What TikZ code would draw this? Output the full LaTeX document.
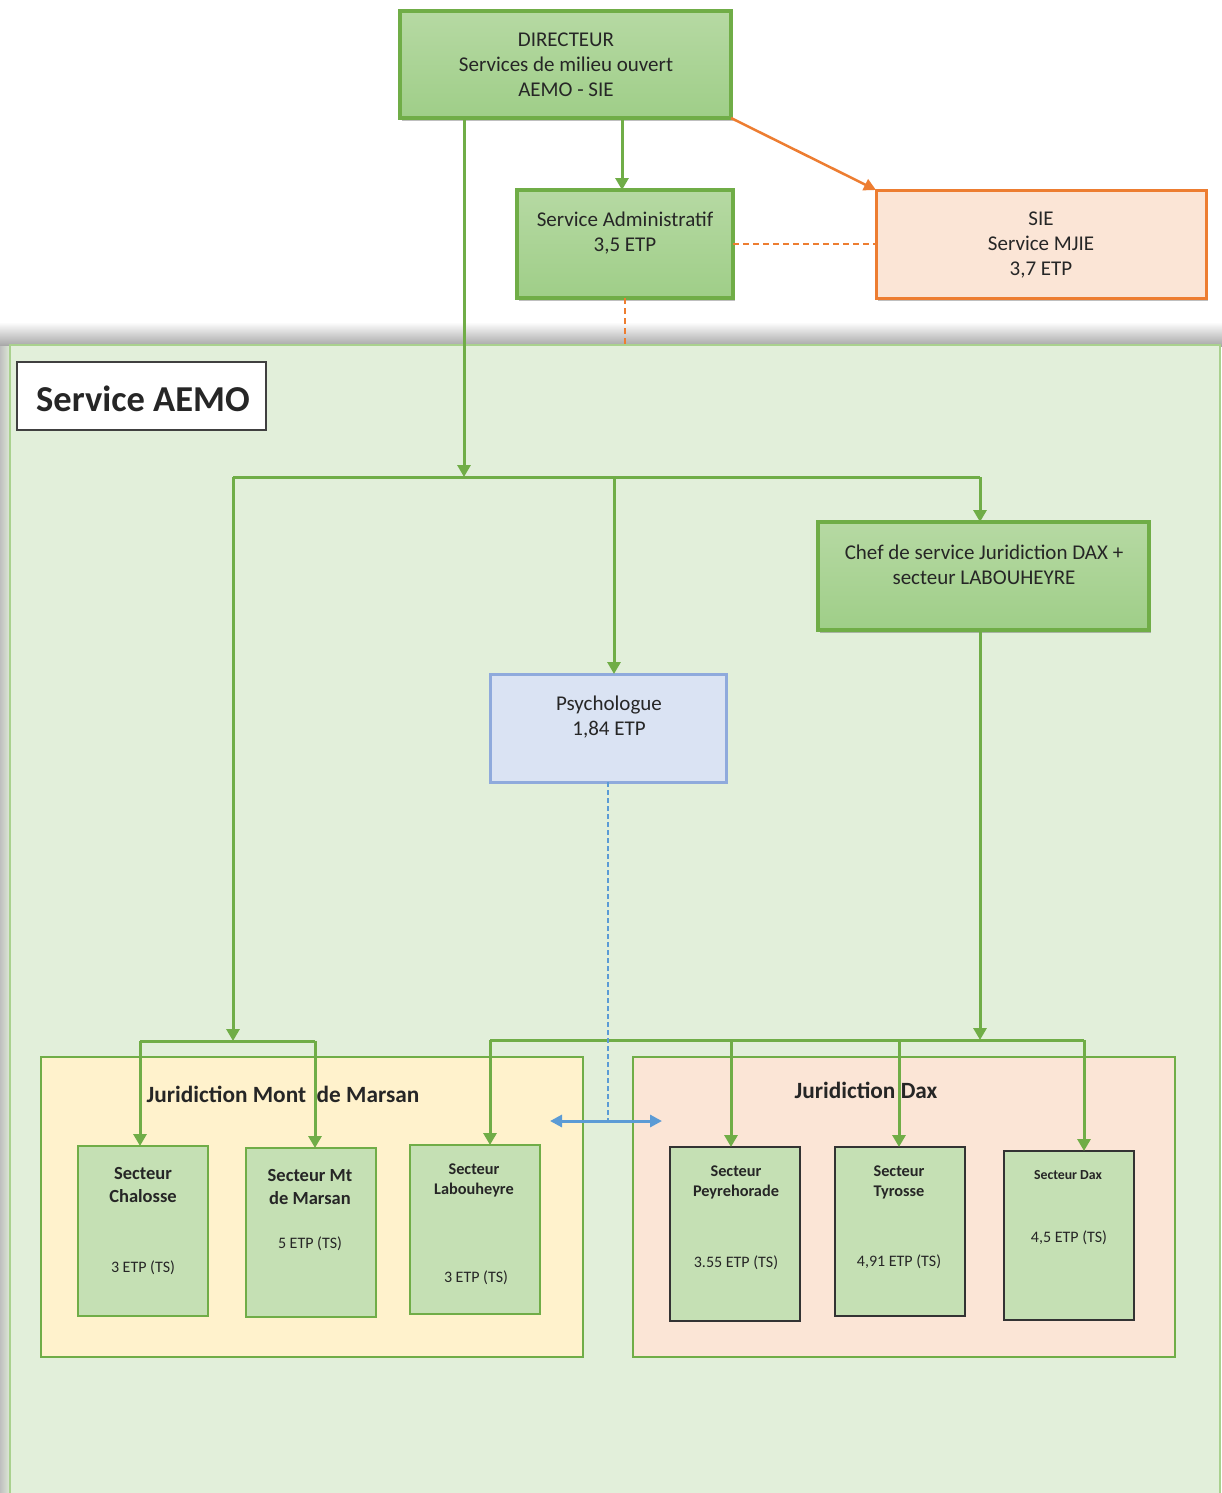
\documentclass[tikz,border=0pt]{standalone}
\usepackage{fontspec}
\setmainfont{Carlito}
\usetikzlibrary{arrows.meta,shadows}
\definecolor{ggreen}{HTML}{70AD47}
\definecolor{gtop}{HTML}{B6D9A3}
\definecolor{gbot}{HTML}{9FCE88}
\definecolor{secfill}{HTML}{C5E0B4}
\definecolor{panelfill}{HTML}{E2EFDA}
\definecolor{panelline}{HTML}{A9D18E}
\definecolor{yelfill}{HTML}{FFF2CC}
\definecolor{peach}{HTML}{FBE5D6}
\definecolor{orng}{HTML}{ED7D31}
\definecolor{bluefill}{HTML}{DAE3F3}
\definecolor{blueline}{HTML}{8FAADC}
\definecolor{bluearrow}{HTML}{5B9BD5}
\definecolor{txt}{HTML}{262626}
\begin{document}
\begin{tikzpicture}[x=1pt,y=-1pt,
  every node/.style={inner sep=0pt, outer sep=0pt, text=txt},
  softshadow/.style={drop shadow={shadow xshift=2pt, shadow yshift=-3pt, opacity=0.25, fill=black}},
  topbox/.style={draw=ggreen, line width=3.5pt, top color=gtop, bottom color=gbot, softshadow},
  siebox/.style={draw=orng, line width=3pt, fill=peach, softshadow},
  psybox/.style={draw=blueline, line width=3pt, fill=bluefill},
  secbox/.style={draw=ggreen, line width=1.8pt, fill=secfill},
  secboxdark/.style={draw=black!80, line width=1.8pt, fill=secfill},
  jurbox/.style={draw=ggreen, line width=1.6pt},
  garrow/.style={draw=ggreen, line width=3pt, -{Triangle[length=12pt,width=13pt]}},
  gline/.style={draw=ggreen, line width=3pt},
  txtn/.style={font=\fontsize{21}{25}\selectfont, align=center},
  sect/.style={font=\bfseries\fontsize{18.5}{22.5}\selectfont, align=center},
  etp/.style={font=\fontsize{16}{18}\selectfont, align=center},
  jurt/.style={font=\bfseries\fontsize{23.3}{26}\selectfont},
]
\useasboundingbox (0,0) rectangle (1222,1493);
\fill[white] (0,0) rectangle (1222,1493);

% panel shadow
\shade[top color=white, bottom color=black!35] (0,322) rectangle (1222,346);
\shade[left color=black!25, right color=panelfill] (0,346) rectangle (11,1493);

% big panel
\node[draw=panelline, line width=1.5pt, fill=panelfill, minimum width=1210pt, minimum height=1160pt] (panel) at (615,925) {};
\node[draw=black!75, line width=1.3pt, fill=white, minimum width=249pt, minimum height=68pt] (aemo) at (141.5,396) {};
\node[font=\bfseries\fontsize{36.5}{40}\selectfont] (aemoT) at (143,399) {Service AEMO};

% top boxes
\node[topbox, minimum width=331pt, minimum height=107pt] (dir) at (565.5,64.5) {};
\node[txtn] (dirT) at (566,65) {DIRECTEUR\\Services de milieu ouvert\\AEMO - SIE};

\node[topbox, minimum width=216pt, minimum height=108pt] (adm) at (625,244) {};
\node[txtn] (admT) at (625,233) {Service Administratif\\3,5 ETP};

\node[siebox, minimum width=330pt, minimum height=108pt] (sie) at (1041,244) {};
\node[txtn] (sieT) at (1041,245) {SIE\\Service MJIE\\3,7 ETP};

\node[topbox, drop shadow={opacity=0}, minimum width=331pt, minimum height=108pt] (chef) at (983.5,576) {};
\node[txtn] (chefT) at (984,565) {Chef de service Juridiction DAX +\\secteur LABOUHEYRE};

\node[psybox, minimum width=236pt, minimum height=108pt] (psy) at (608,728) {};
\node[txtn] (psyT) at (609,717) {Psychologue\\1,84 ETP};

% juridictions
\node[jurbox, fill=yelfill, minimum width=542pt, minimum height=300pt] (jmm) at (312,1207) {};
\node[jurt] (jmmT) at (283,1094) {Juridiction Mont\ \ de Marsan};
\node[jurbox, fill=peach, minimum width=542pt, minimum height=300pt] (jdax) at (904,1207) {};
\node[jurt] (jdaxT) at (866,1090) {Juridiction Dax};

% secteurs
\node[secbox, minimum width=130pt, minimum height=170pt] (s1) at (143,1231) {};
\node[sect] (s1T) at (143,1185) {Secteur\\Chalosse};
\node[etp] (s1E) at (143,1268) {3 ETP (TS)};

\node[secbox, minimum width=130pt, minimum height=169pt] (s2) at (311,1232.5) {};
\node[sect] (s2T) at (310,1187) {Secteur Mt\\de Marsan};
\node[etp] (s2E) at (310,1244) {5 ETP (TS)};

\node[secbox, minimum width=130pt, minimum height=169pt] (s3) at (475,1229.5) {};
\node[sect, font=\bfseries\fontsize{16.3}{20}\selectfont] (s3T) at (474,1180) {Secteur\\Labouheyre};
\node[etp] (s3E) at (476,1278) {3 ETP (TS)};

\node[secboxdark, minimum width=130pt, minimum height=174pt] (s4) at (735,1234) {};
\node[sect, font=\bfseries\fontsize{16.3}{20}\selectfont] (s4T) at (736,1182) {Secteur\\Peyrehorade};
\node[etp] (s4E) at (736,1263) {3.55 ETP (TS)};

\node[secboxdark, minimum width=130pt, minimum height=169pt] (s5) at (900,1231.5) {};
\node[sect, font=\bfseries\fontsize{16.3}{20}\selectfont] (s5T) at (899,1182) {Secteur\\Tyrosse};
\node[etp] (s5E) at (899,1262) {4,91 ETP (TS)};

\node[secboxdark, minimum width=130pt, minimum height=169pt] (s6) at (1069,1235.5) {};
\node[sect, font=\bfseries\fontsize{13.8}{16}\selectfont] (s6T) at (1068,1175) {Secteur Dax};
\node[etp] (s6E) at (1069,1238) {4,5 ETP (TS)};

% coordinates for connectors
\coordinate (d1) at (464,477);
\coordinate (a1) at (622,0);
\coordinate (bl) at (233,477);
\coordinate (br) at (980,477);
\coordinate (pm) at (614,477);
\coordinate (lb) at (233,1041);
\coordinate (rb) at (980,1040);
\coordinate (l1) at (140,1041);
\coordinate (l2) at (315,1041);
\coordinate (r3) at (490,1040);
\coordinate (r4) at (731,1040);
\coordinate (r5) at (899,1040);
\coordinate (r6) at (1084,1040);
\coordinate (ba1) at (550,1121);
\coordinate (ba2) at (662,1121);

% connectors
\draw[garrow] (d1 |- dir.south) -- (d1);
\draw[garrow] (a1 |- dir.south) -- (a1 |- adm.north);
\draw[orng, line width=2.5pt, -{Triangle[length=12pt,width=12pt]}] (dir.south east) -- (sie.north west);
\draw[orng, line width=2pt, dash pattern=on 6pt off 4pt] (adm.east) -- (sie.west);
\draw[orng, line width=2pt, dash pattern=on 6pt off 4pt] (adm.south) -- (adm.south |- panel.north);

\draw[gline] (bl) -- (br);
\draw[garrow] (bl) -- (lb);
\draw[garrow] (pm) -- (pm |- psy.north);
\draw[garrow] (br) -- (br |- chef.north);
\draw[garrow] (br |- chef.south) -- (rb);

\draw[gline] (l1) -- (l2);
\draw[garrow] (l1) -- (l1 |- s1.north);
\draw[garrow] (l2) -- (l2 |- s2.north);

\draw[gline] (r3) -- (r6);
\draw[garrow] (r3) -- (r3 |- s3.north);
\draw[garrow] (r4) -- (r4 |- s4.north);
\draw[garrow] (r5) -- (r5 |- s5.north);
\draw[garrow] (r6) -- (r6 |- s6.north);

\draw[bluearrow, line width=2pt, dash pattern=on 5pt off 3pt] (psy.south) -- (psy.south |- ba1);
\draw[bluearrow, line width=3pt, {Triangle[length=12pt,width=12pt]}-{Triangle[length=12pt,width=12pt]}] (ba1) -- (ba2);
\end{tikzpicture}
\end{document}
